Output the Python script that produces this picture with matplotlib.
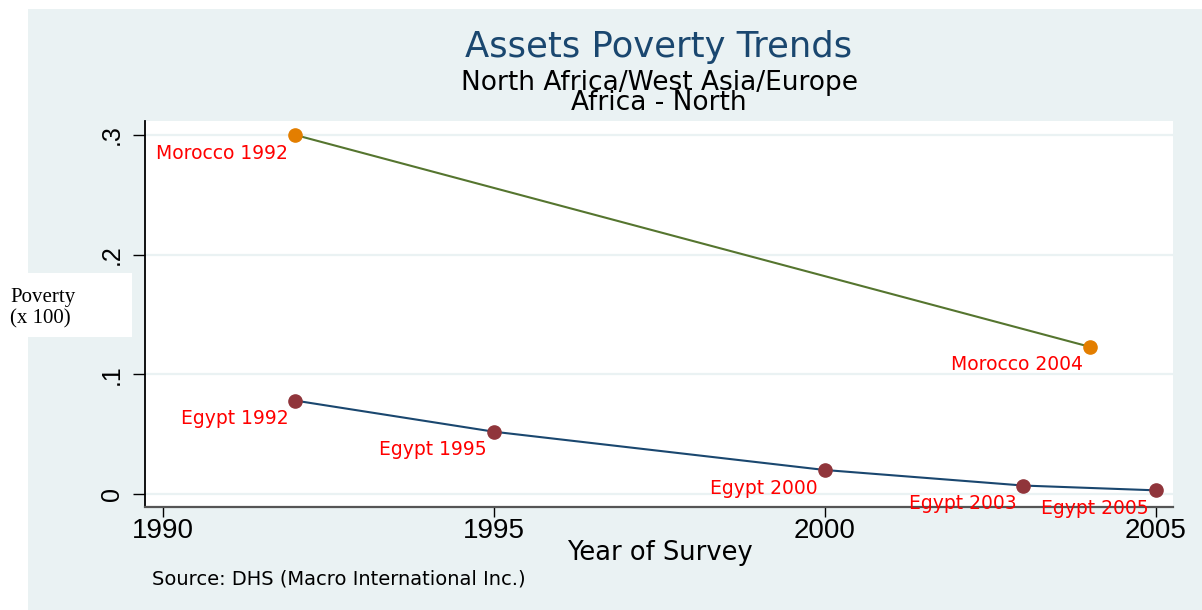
import matplotlib.pyplot as plt
from matplotlib.patches import Rectangle

# data
morocco_years = [1992, 2004]
morocco_pov = [0.300, 0.123]
egypt_years = [1992, 1995, 2000, 2003, 2005]
egypt_pov = [0.078, 0.052, 0.020, 0.007, 0.003]
x_ticks = [1990, 1995, 2000, 2005]
y_ticks = [0, 0.1, 0.2, 0.3]
y_tick_labels = ["0", ".1", ".2", ".3"]

bg = "#eaf2f3"
fig = plt.figure(figsize=(12.02, 6.10), dpi=100)
fig.patch.set_facecolor("white")
fig.add_artist(Rectangle((0.0233, 0), 0.9767, 0.9852, transform=fig.transFigure,
                         facecolor=bg, edgecolor="none", zorder=0))
fig.add_artist(Rectangle((0.0233, 0.4475), 0.0865, 0.1049, transform=fig.transFigure,
                         facecolor="white", edgecolor="none", zorder=1))

ax = fig.add_axes([0.1206, 0.1689, 0.8553, 0.6328])
ax.set_facecolor("white")
ax.set_xlim(1989.73, 2005.26)
ax.set_ylim(-0.0109, 0.3117)

for y in y_ticks:
    ax.axhline(y, color=bg, lw=1.6, zorder=1)

ax.plot(morocco_years, morocco_pov, color="#55752f", lw=1.5, zorder=2)
ax.plot(morocco_years, morocco_pov, "o", color="#e37e00", ms=9.5, zorder=3)
ax.plot(egypt_years, egypt_pov, color="#1a476f", lw=1.5, zorder=2)
ax.plot(egypt_years, egypt_pov, "o", color="#90353b", ms=9.5, zorder=3)

for yr, v in zip(morocco_years, morocco_pov):
    ax.annotate(f"Morocco {yr}", (yr, v), xytext=(-5, -13), textcoords="offset points",
                ha="right", va="center", color="red", fontsize=13.5, clip_on=False, zorder=5)
for yr, v in zip(egypt_years, egypt_pov):
    ax.annotate(f"Egypt {yr}", (yr, v), xytext=(-5, -13), textcoords="offset points",
                ha="right", va="center", color="red", fontsize=13.5, clip_on=False, zorder=5)

for s in ["top", "right"]:
    ax.spines[s].set_visible(False)
ax.spines["left"].set_color("black")
ax.spines["bottom"].set_color("#555555")
ax.spines["left"].set_linewidth(1.3)
ax.spines["bottom"].set_linewidth(1.6)

ax.set_xticks(x_ticks)
ax.set_xticklabels([str(x) for x in x_ticks], fontsize=20, family="Liberation Sans")
ax.set_yticks(y_ticks)
ax.set_yticklabels(y_tick_labels, fontsize=18, family="Liberation Sans",
                   rotation=90, va="center")
ax.tick_params(axis="x", length=7, width=1, pad=1)
ax.tick_params(axis="y", length=9, width=1, pad=6)

fig.text(0.5483, 0.9066, "Assets Poverty Trends", ha="center", va="baseline",
         fontsize=25.5, color="#1a476f")
fig.text(0.5483, 0.8197, "North Africa/West Asia/Europe\nAfrica - North", ha="center",
         va="baseline", multialignment="center", linespacing=0.72,
         fontsize=19, color="black")
fig.text(0.549, 0.082, "Year of Survey", ha="center", va="baseline", fontsize=18.5)
fig.text(0.1265, 0.041, "Source: DHS (Macro International Inc.)", ha="left",
         va="baseline", fontsize=14)
fig.text(0.0083, 0.5049, "Poverty", ha="left", va="baseline", fontsize=15,
         family="Liberation Serif", zorder=2)
fig.text(0.0083, 0.4705, "(x 100)", ha="left", va="baseline", fontsize=15,
         family="Liberation Serif", zorder=2)

fig.savefig("out.png", dpi=100)
